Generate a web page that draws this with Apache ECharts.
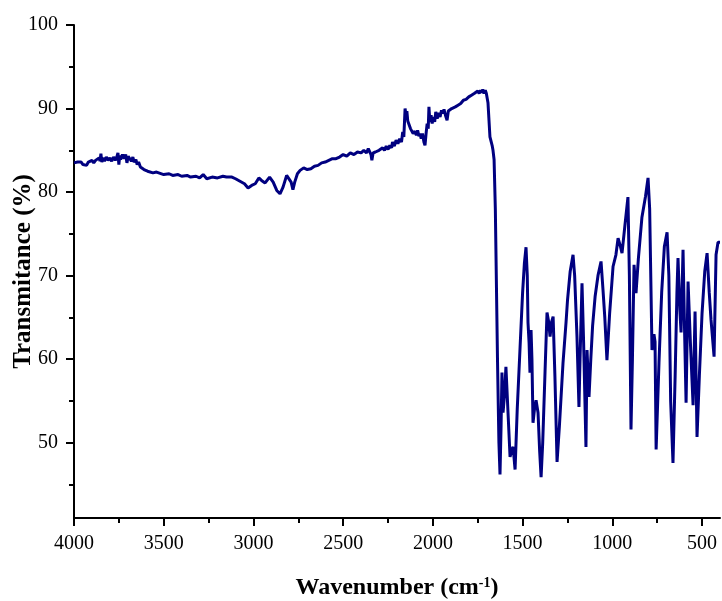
<!DOCTYPE html>
<html>
<head>
<meta charset="utf-8">
<script src="https://cdn.jsdelivr.net/npm/echarts@6/dist/echarts.min.js"></script>
<style>
  html, body { margin: 0; padding: 0; background: #fff; }
  #chart { width: 722px; height: 601px; }
</style>
</head>
<body>
<div id="chart"></div>
<script>
// FTIR spectrum: [wavenumber cm-1, transmitance %]
// 4000 - 2600: O-H / C-H region
var highRegion = [
  [4000, 83.5], [3990, 83.3], [3980, 83.6], [3970, 83.4], [3960, 83.6], [3950, 83.3],
  [3940, 83.5], [3930, 83.2], [3920, 83.6], [3910, 83.4], [3900, 83.8], [3890, 83.5],
  [3880, 83.8], [3870, 83.6], [3860, 84.1], [3855, 83.7], [3850, 84.6], [3845, 83.6],
  [3838, 84.1], [3830, 83.7], [3820, 84.2], [3810, 83.8], [3800, 84.1], [3790, 83.7],
  [3780, 84.2], [3770, 83.8], [3760, 84.3], [3755, 84.7], [3750, 83.3], [3745, 84.4],
  [3740, 83.9], [3730, 84.5], [3720, 84.0], [3712, 84.5], [3705, 83.5], [3698, 84.3],
  [3690, 84.5], [3680, 83.7], [3672, 84.2], [3665, 83.6], [3655, 83.9], [3648, 83.3],
  [3640, 83.6], [3630, 83.0], [3620, 83.2], [3610, 82.7], [3600, 82.9], [3590, 82.5],
  [3580, 82.6], [3560, 82.3], [3540, 82.4], [3500, 82.1], [3470, 82.2], [3450, 82.0],
  [3420, 82.1], [3400, 81.9], [3370, 82.0], [3350, 81.8], [3320, 81.9], [3300, 81.7],
  [3280, 82.1], [3260, 81.6], [3230, 81.8], [3200, 81.7], [3170, 81.9], [3150, 81.8],
  [3120, 81.8], [3100, 81.6], [3075, 81.3], [3050, 81.0], [3030, 80.5], [3010, 80.8],
  [2990, 81.0], [2970, 81.7], [2955, 81.4], [2935, 81.1], [2910, 81.8], [2890, 81.2],
  [2870, 80.2], [2852, 79.8], [2835, 80.6], [2815, 82.0], [2805, 82.2], [2790, 81.2],
  [2780, 80.3], [2770, 81.2], [2755, 82.2], [2740, 82.6], [2720, 82.9], [2700, 82.7],
  [2680, 82.8], [2660, 83.1], [2640, 83.2], [2620, 83.5], [2600, 83.6]
];
// 2600 - 1700: slope, CO2 and overtone noise
var midRegion = [
  [2580, 83.8], [2560, 84.0], [2540, 84.0], [2520, 84.2], [2500, 84.5], [2480, 84.3],
  [2460, 84.7], [2440, 84.5], [2420, 84.8], [2400, 84.7], [2385, 85.0], [2370, 84.7],
  [2360, 85.2], [2345, 84.5], [2340, 83.8], [2333, 84.7], [2320, 84.8], [2300, 85.0],
  [2290, 84.8], [2280, 85.3], [2270, 85.0], [2260, 85.5], [2250, 85.1], [2240, 85.6],
  [2230, 85.3], [2225, 86.0], [2215, 85.5], [2205, 86.2], [2195, 85.8], [2185, 86.4],
  [2175, 86.0], [2168, 87.2], [2162, 86.6], [2158, 88.5], [2155, 90.0], [2150, 89.2],
  [2145, 89.7], [2140, 88.5], [2132, 88.4], [2125, 87.6], [2117, 87.6], [2110, 87.0],
  [2100, 87.3], [2092, 86.8], [2085, 87.4], [2078, 86.7], [2072, 87.0], [2065, 86.4],
  [2058, 87.0], [2050, 86.0], [2044, 85.6], [2038, 87.0], [2032, 88.2], [2026, 87.6],
  [2022, 90.2], [2017, 88.4], [2010, 89.2], [2004, 88.2], [1998, 89.0], [1990, 88.4],
  [1984, 89.6], [1976, 88.8], [1968, 89.5], [1960, 89.0], [1952, 89.8], [1945, 89.4],
  [1938, 89.9], [1930, 89.2], [1921, 88.6], [1914, 89.7], [1905, 89.5], [1895, 90.0],
  [1885, 89.8], [1875, 90.2], [1860, 90.4], [1845, 90.6], [1830, 91.0], [1815, 91.1],
  [1800, 91.4], [1785, 91.6], [1770, 91.8], [1760, 91.7], [1750, 92.1], [1742, 91.8],
  [1735, 92.2], [1728, 91.9], [1722, 92.3], [1715, 91.8], [1708, 92.2], [1702, 91.8]
];
// 1700 - 400: fingerprint region
var fingerprint = [
  [1693, 90.7], [1682, 86.6], [1670, 85.6], [1665, 85.0], [1659, 83.9], [1652, 78.0],
  [1648, 72.0], [1640, 60.0], [1632, 50.0], [1626, 46.2], [1620, 52.0], [1615, 58.4],
  [1609, 53.6], [1600, 56.0], [1593, 59.1], [1580, 53.0], [1570, 48.3], [1560, 49.2],
  [1553, 49.5], [1542, 46.8], [1530, 54.0], [1514, 61.5], [1500, 68.0], [1490, 71.5],
  [1481, 73.4], [1474, 70.0], [1470, 64.4], [1464, 62.0], [1459, 58.4], [1453, 63.5],
  [1448, 60.0], [1442, 52.4], [1434, 54.0], [1425, 55.1], [1414, 53.6], [1405, 49.0],
  [1397, 45.9], [1388, 50.0], [1375, 58.5], [1364, 65.6], [1355, 64.5], [1347, 62.7],
  [1338, 64.5], [1330, 65.1], [1320, 58.0], [1308, 47.7], [1295, 52.0], [1275, 59.5],
  [1258, 64.4], [1250, 67.0], [1235, 70.5], [1219, 72.5], [1210, 70.0], [1197, 62.7],
  [1186, 54.3], [1180, 60.0], [1169, 69.1], [1160, 62.0], [1147, 49.5], [1141, 61.1],
  [1130, 55.5], [1120, 60.0], [1110, 64.0], [1096, 67.5], [1080, 70.0], [1063, 71.7],
  [1052, 68.3], [1042, 65.0], [1030, 59.9], [1015, 65.5], [996, 71.1], [980, 72.5],
  [968, 74.5], [955, 73.5], [946, 72.7], [930, 76.0], [913, 79.4], [905, 70.0],
  [896, 51.6], [888, 60.0], [879, 71.3], [868, 67.9], [855, 72.0], [835, 77.0],
  [815, 79.5], [801, 81.7], [792, 78.0], [779, 61.1], [768, 63.0], [762, 62.1],
  [756, 49.2], [740, 59.6], [725, 68.0], [710, 73.5], [695, 75.2], [685, 70.0],
  [675, 55.0], [662, 47.6], [650, 58.0], [640, 68.0], [634, 72.1], [624, 66.0],
  [617, 63.2], [606, 73.1], [597, 63.0], [589, 54.8], [578, 69.3], [565, 62.0],
  [550, 54.5], [539, 65.7], [528, 50.7], [515, 58.0], [500, 65.5], [485, 70.5],
  [472, 72.7], [460, 68.0], [450, 64.7], [433, 60.3], [422, 72.5], [411, 74.0],
  [400, 74.0]
];

var xTicks = [500, 1000, 1500, 2000, 2500, 3000, 3500, 4000];
var xMinorTicks = [750, 1250, 1750, 2250, 2750, 3250, 3750];
var yTicks = [50, 60, 70, 80, 90, 100];
var yMinorTicks = [45, 55, 65, 75, 85, 95];

var spectrum = highRegion.concat(midRegion, fingerprint);

var serif = '"Liberation Serif", "Times New Roman", serif';
var black = '#000';

var chart = echarts.init(document.getElementById('chart'));

option = {
  animation: false,
  backgroundColor: '#fff',
  grid: {
    left: 74,
    right: 2,
    top: 25,
    bottom: 83,
    outerBoundsMode: 'none'
  },
  xAxis: [
    {
      type: 'value',
      inverse: true,
      min: 400,
      max: 4000,
      position: 'bottom',
      name: 'Wavenumber (cm{sup|-1})',
      nameLocation: 'middle',
      nameGap: 58,
      nameMoveOverlap: false,
      nameTextStyle: {
        fontFamily: serif,
        fontWeight: 'bold',
        fontSize: 24,
        color: black,
        rich: {
          sup: { fontFamily: serif, fontWeight: 'bold', fontSize: 14, color: black, verticalAlign: 'top', padding: [0, 0, 8, 0] }
        }
      },
      axisLine: { show: true, onZero: false, lineStyle: { color: black, width: 2 } },
      axisTick: { show: true, inside: false, length: 8, customValues: xTicks, lineStyle: { color: black, width: 2 } },
      axisLabel: {
        customValues: xTicks,
        formatter: function (v) { return String(v); },
        fontFamily: serif, fontSize: 20, color: black, margin: 16
      },
      splitLine: { show: false }
    },
    {
      // minor ticks only
      type: 'value',
      inverse: true,
      min: 400,
      max: 4000,
      position: 'bottom',
      axisLine: { show: false },
      axisTick: { show: true, inside: false, length: 5, customValues: xMinorTicks, lineStyle: { color: black, width: 2 } },
      axisLabel: { show: false },
      splitLine: { show: false }
    }
  ],
  yAxis: [
    {
      type: 'value',
      min: 41,
      max: 100,
      position: 'left',
      name: 'Transmitance (%)',
      nameLocation: 'middle',
      nameGap: 38,
      nameMoveOverlap: false,
      nameTextStyle: { fontFamily: serif, fontWeight: 'bold', fontSize: 25, color: black },
      axisLine: { show: true, onZero: false, lineStyle: { color: black, width: 2 } },
      axisTick: { show: true, inside: false, length: 8, customValues: yTicks, lineStyle: { color: black, width: 2 } },
      axisLabel: { customValues: yTicks, fontFamily: serif, fontSize: 20, color: black, margin: 16 },
      splitLine: { show: false }
    },
    {
      type: 'value',
      min: 41,
      max: 100,
      position: 'left',
      axisLine: { show: false },
      axisTick: { show: true, inside: false, length: 5, customValues: yMinorTicks, lineStyle: { color: black, width: 2 } },
      axisLabel: { show: false },
      splitLine: { show: false }
    }
  ],
  series: [
    {
      name: 'Transmitance',
      type: 'line',
      xAxisIndex: 0,
      yAxisIndex: 0,
      showSymbol: false,
      smooth: false,
      lineStyle: { color: '#000080', width: 3 },
      data: spectrum
    }
  ]
};

chart.setOption(option);
</script>
</body>
</html>
